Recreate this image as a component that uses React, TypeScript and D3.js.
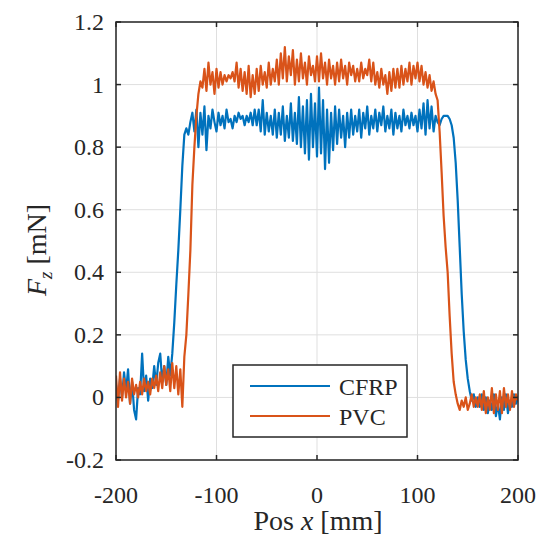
import React from "react";
import * as d3 from "d3";

const xStart = -200;
const xStep = 2;

const cfrp: number[] = [
  0.04, -0.01, 0.06, 0.0, 0.08, 0.02, 0.09, -0.02, 0.05, -0.04,
  -0.07, 0.03, 0.01, 0.14, 0.02, 0.07, -0.01, 0.06, 0.03, 0.1,
  0.04, 0.11, 0.14, 0.05, 0.1, 0.04, 0.13, 0.07, 0.14, 0.24,
  0.36, 0.47, 0.6, 0.74, 0.84, 0.86, 0.84, 0.88, 0.91, 0.85,
  0.92, 0.8, 0.91, 0.84, 0.93, 0.79, 0.9, 0.86, 0.92, 0.88,
  0.85, 0.91, 0.87, 0.9, 0.86, 0.92, 0.88, 0.89, 0.86, 0.9,
  0.88, 0.91, 0.89, 0.9, 0.87, 0.9, 0.88, 0.91, 0.87, 0.92,
  0.87, 0.92, 0.85, 0.95, 0.84, 0.91, 0.85, 0.9, 0.84, 0.92,
  0.83, 0.91, 0.84, 0.93, 0.82, 0.9, 0.83, 0.94, 0.82, 0.91,
  0.81, 0.96, 0.8, 0.93, 0.78, 0.95, 0.76, 0.97, 0.8, 0.94,
  0.77, 0.99, 0.78, 0.95, 0.73, 0.92, 0.75, 0.91, 0.79, 0.93,
  0.81, 0.92, 0.83, 0.9, 0.8, 0.91, 0.83, 0.92, 0.84, 0.9,
  0.85, 0.92, 0.83, 0.91, 0.86, 0.93, 0.84, 0.9, 0.86, 0.92,
  0.85, 0.91, 0.87, 0.93, 0.85, 0.9, 0.86, 0.92, 0.84, 0.91,
  0.86, 0.9, 0.85, 0.92, 0.87, 0.9, 0.86, 0.91, 0.87, 0.9,
  0.85, 0.92, 0.86, 0.94, 0.84, 0.95, 0.86, 0.93, 0.85, 0.9,
  0.88, 0.87, 0.89, 0.9, 0.9, 0.9, 0.89, 0.87, 0.83, 0.75,
  0.63, 0.48, 0.33, 0.21, 0.12, 0.06, 0.02, -0.01, 0.01, -0.03,
  0.0, -0.03, 0.01, -0.04, 0.0, -0.05, -0.01, -0.04, 0.01, -0.06,
  -0.02, -0.07, 0.0, -0.04, 0.01, -0.05, -0.01, -0.03, 0.01, -0.02,
  0.0,
];

const pvc: number[] = [
  0.07, -0.03, 0.08, -0.01, 0.06, 0.0, 0.05, -0.02, 0.06, 0.01,
  0.04, 0.0, 0.05, 0.01, 0.06, 0.02, 0.05, 0.01, 0.06, 0.03,
  0.07, 0.02, 0.08, 0.03, 0.1, 0.04, 0.09, 0.02, 0.11, 0.03,
  0.1, 0.01, 0.09, -0.03, 0.13, 0.2, 0.33, 0.47, 0.68, 0.8,
  0.9, 0.97, 1.01, 0.99, 1.05, 0.98, 1.07, 1.0, 1.04, 0.97,
  1.05, 0.99, 1.04, 1.0, 1.03, 1.01, 1.03, 1.02, 1.04, 1.01,
  1.07, 0.99, 1.05, 0.98, 1.04, 0.97, 1.06, 0.96, 1.03, 0.97,
  1.05, 0.98, 1.06, 1.0, 1.04, 0.99, 1.07, 1.0, 1.05, 1.01,
  1.08, 1.0, 1.1, 1.02, 1.12, 1.01, 1.09, 1.03, 1.11, 1.0,
  1.08, 1.01, 1.1, 1.02, 1.07, 1.0, 1.09, 1.03, 1.06, 1.01,
  1.09, 1.01, 1.1, 1.02, 1.07, 1.0, 1.08, 1.02, 1.06, 1.0,
  1.07, 1.01, 1.08, 1.02, 1.06, 1.0, 1.07, 1.03, 1.06, 1.01,
  1.05, 1.01, 1.07, 1.02, 1.05, 1.03, 1.08, 1.01, 1.07, 1.0,
  1.04, 0.99, 1.05, 1.0, 1.03, 0.97, 1.04, 0.98, 1.05, 0.99,
  1.05, 0.99, 1.06, 1.0, 1.05, 1.01, 1.07, 1.0, 1.06, 1.02,
  1.07, 1.01, 1.06, 1.0, 1.04, 0.99, 1.03, 0.98, 1.01, 0.97,
  0.95, 0.85, 0.72, 0.58, 0.48, 0.4, 0.26, 0.14, 0.05, 0.01,
  -0.02, -0.04, -0.01, -0.03, 0.0, -0.04, -0.02, 0.01, -0.03, 0.0,
  -0.03, 0.01, -0.04, 0.02, -0.05, 0.0, -0.04, 0.03, -0.05, 0.01,
  -0.04, 0.02, -0.05, 0.03, -0.03, 0.01, -0.04, 0.02, -0.03, 0.01,
  -0.01,
];

const xTicks = [-200, -100, 0, 100, 200];
const yTicks = [-0.2, 0, 0.2, 0.4, 0.6, 0.8, 1, 1.2];
const yTickLabels = ["-0.2", "0", "0.2", "0.4", "0.6", "0.8", "1", "1.2"];
const seriesNames = ["CFRP", "PVC"];
const colors = ["#0072BD", "#D95319"];

const W = 545;
const H = 534;
const left = 116;
const right = 518;
const top = 22;
const bottom = 460;
const font = "Liberation Serif";

export default function App() {
  const x = d3.scaleLinear().domain([-200, 200]).range([left, right]);
  const y = d3.scaleLinear().domain([-0.2, 1.2]).range([bottom, top]);
  const line = d3
    .line<number>()
    .x((_, i) => x(xStart + i * xStep))
    .y((d) => y(d));
  const series = [cfrp, pvc];
  const tl = 5;
  const ts = { fontFamily: font };
  return (
    <svg
      width={W}
      height={H}
      style={{ position: "absolute", left: 0, top: 0, background: "#fff", fontFamily: font }}
    >
      <rect x={0} y={0} width={W} height={H} fill="#fff" />
      {xTicks.map((t) => (
        <line key={"gx" + t} x1={x(t)} x2={x(t)} y1={top} y2={bottom} stroke="#dfdfdf" strokeWidth={1} />
      ))}
      {yTicks.map((t) => (
        <line key={"gy" + t} x1={left} x2={right} y1={y(t)} y2={y(t)} stroke="#dfdfdf" strokeWidth={1} />
      ))}
      <defs>
        <clipPath id="clip">
          <rect x={left} y={top} width={right - left} height={bottom - top} />
        </clipPath>
      </defs>
      <g clipPath="url(#clip)">
        {series.map((s, i) => (
          <path key={i} d={line(s) || ""} fill="none" stroke={colors[i]} strokeWidth={2.2} strokeLinejoin="round" />
        ))}
      </g>
      <rect x={left} y={top} width={right - left} height={bottom - top} fill="none" stroke="#262626" strokeWidth={1.5} />
      {xTicks.map((t) => (
        <g key={"tx" + t}>
          <line x1={x(t)} x2={x(t)} y1={bottom} y2={bottom - tl} stroke="#262626" strokeWidth={1.5} />
          <line x1={x(t)} x2={x(t)} y1={top} y2={top + tl} stroke="#262626" strokeWidth={1.5} />
          <text x={x(t)} y={503} textAnchor="middle" fontSize={24} fill="#262626" style={ts}>
            {String(t)}
          </text>
        </g>
      ))}
      {yTicks.map((t, i) => (
        <g key={"ty" + t}>
          <line x1={left} x2={left + tl} y1={y(t)} y2={y(t)} stroke="#262626" strokeWidth={1.5} />
          <line x1={right} x2={right - tl} y1={y(t)} y2={y(t)} stroke="#262626" strokeWidth={1.5} />
          <text x={104} y={y(t) + 8} textAnchor="end" fontSize={24} fill="#262626" style={ts}>
            {yTickLabels[i]}
          </text>
        </g>
      ))}
      <text x={318} y={530} textAnchor="middle" fontSize={28} fill="#262626" style={ts}>
        Pos <tspan fontStyle="italic">x</tspan> [mm]
      </text>
      <text transform={`translate(46,250) rotate(-90)`} textAnchor="middle" fontSize={28} fill="#262626" style={ts}>
        <tspan fontStyle="italic">F</tspan>
        <tspan fontStyle="italic" fontSize={19} dy={6}>z</tspan>
        <tspan dy={-6}> [mN]</tspan>
      </text>
      <rect x={233} y={365} width={174} height={72} fill="#fff" stroke="#262626" strokeWidth={1.5} />
      {seriesNames.map((n, i) => (
        <g key={n}>
          <line x1={250} x2={330} y1={386 + i * 30} y2={386 + i * 30} stroke={colors[i]} strokeWidth={2} />
          <text x={339} y={395 + i * 30} fontSize={24} fill="#262626" style={ts}>
            {n}
          </text>
        </g>
      ))}
    </svg>
  );
}
